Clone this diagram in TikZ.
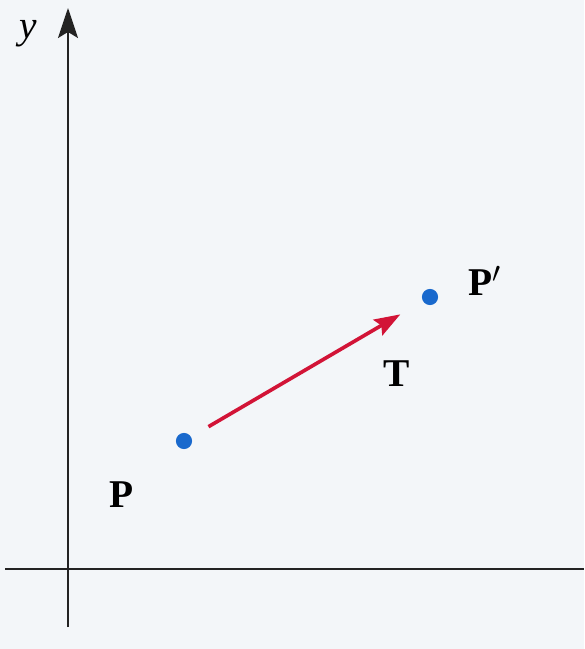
\documentclass[tikz,border=0pt]{standalone}
\usepackage{fontspec}
\setmainfont{Liberation Serif}
\usetikzlibrary{arrows.meta}
\definecolor{paper}{RGB}{243,246,249}
\definecolor{axisgray}{RGB}{35,35,35}
\definecolor{dotblue}{RGB}{25,105,205}
\definecolor{vecred}{RGB}{210,20,55}
\tikzset{
  axis/.style={axisgray,line width=1.4pt},
  pt/.style={circle,fill=dotblue,inner sep=0pt,minimum size=11.5pt},
  lbl/.style={font=\fontsize{28}{30}\selectfont\bfseries,inner sep=0pt},
}
\begin{document}
\begin{tikzpicture}[x=0.25mm,y=-0.25mm]
\fill[paper] (0,0) rectangle (584,649);
\useasboundingbox (0,0) rectangle (584,649);
% axes
\coordinate (xl) at (5,569);
\coordinate (xr) at (584,569);
\coordinate (yb) at (68,627);
\coordinate (yt) at (68,8);
\draw[axis] (xl) -- (xr);
\draw[axis,-{Stealth[length=7.5mm,width=5mm,inset=1.5mm]}] (yb) -- (yt);
\node[font=\fontsize{28}{30}\selectfont\itshape] (ylab) at (28,34) {y};
% points and translation vector
\node[pt] (P) at (184,441) {};
\node[pt] (Pp) at (430,297) {};
\draw[vecred,line width=2.6pt,shorten <=5mm,shorten >=6.5mm,-{Stealth[length=6.5mm,width=4.5mm,inset=1mm]}] (P) -- (Pp);
\node[lbl] (Plab) at (122,495) {P};
\node[lbl] (Tlab) at (397,374) {T};
\node[lbl,anchor=base west] (Pplab) at (468,295) {P$'$};
\end{tikzpicture}
\end{document}
